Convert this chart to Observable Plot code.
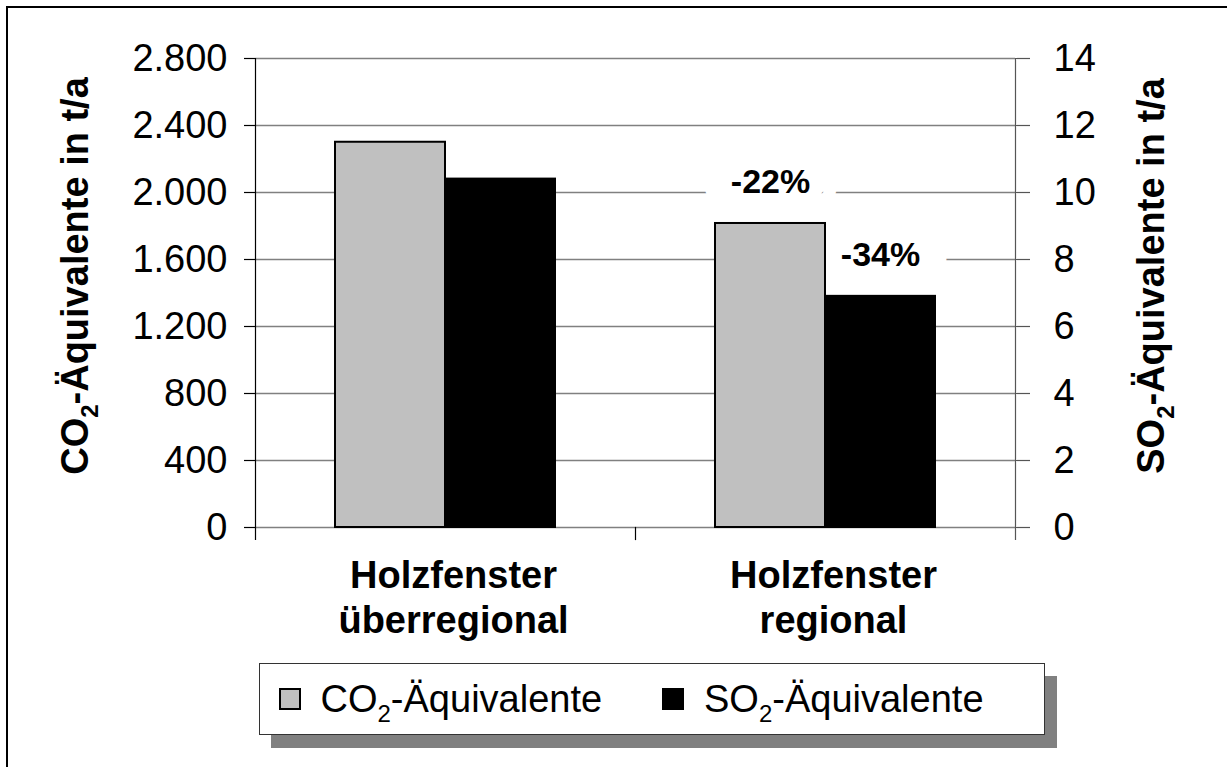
<!DOCTYPE html>
<html>
<head>
<meta charset="utf-8">
<script src="https://cdn.jsdelivr.net/npm/d3@7"></script>
<script src="https://cdn.jsdelivr.net/npm/@observablehq/plot@0.6"></script>
<style>
html,body{margin:0;padding:0;width:1227px;height:767px;overflow:hidden;background:#fff;font-family:"Liberation Sans",Arial,sans-serif;}
#frame{position:absolute;left:6px;top:6px;width:1260px;height:800px;border:2px solid #000;box-sizing:border-box;pointer-events:none;}
#chart{position:absolute;left:0;top:0;}
#legend{position:absolute;left:259px;top:663px;width:786px;height:72px;box-sizing:border-box;border:1.5px solid #333;background:#fff;box-shadow:12px 13px 0 #808080;}
.item{position:absolute;top:0;height:100%;display:flex;align-items:center;font-size:38px;color:#000;white-space:nowrap;}
.sw{width:22px;height:22px;box-sizing:border-box;border:2px solid #000;margin-right:20px;flex:none;}
.item sub{font-size:24px;vertical-align:-10px;line-height:0;}
</style>
</head>
<body>
<div id="chart"></div>
<div id="legend"></div>
<div id="frame"></div>
<script>
// ---- data ----
const categories = ["Holzfenster\nüberregional", "Holzfenster\nregional"];
const seriesKeys = ["CO2", "SO2"];
const seriesNames = ["CO₂-Äquivalente", "SO₂-Äquivalente"];
const seriesColors = ["#c0c0c0", "#000000"];
const co2Values = [2300, 1815];      // t/a (left axis)
const so2Values = [10.4, 6.9];       // t/a (right axis)
const co2Change = [null, "-22%"];
const so2Change = [null, "-34%"];
const leftTicks = [0, 400, 800, 1200, 1600, 2000, 2400, 2800];
const rightTicks = [0, 2, 4, 6, 8, 10, 12, 14];
const leftTitle = "CO₂-Äquivalente in t/a";
const rightTitle = "SO₂-Äquivalente in t/a";

// ---- derived table ----
const ratio = leftTicks[leftTicks.length - 1] / rightTicks[rightTicks.length - 1];
const rows = [];
categories.forEach((cat, i) => {
  rows.push({cat, key: seriesKeys[0], value: co2Values[i], label: co2Change[i]});
  rows.push({cat, key: seriesKeys[1], value: so2Values[i] * ratio, label: so2Change[i]});
});
const labelRows = rows.filter(r => r.label);

const deFmt = d3.formatLocale({decimal: ",", thousands: ".", grouping: [3], currency: ["", " €"]}).format(",");

const W = 1227, H = 650, mL = 255, mR = 212, mT = 58, mB = 123;
const plotH = H - mT - mB;

const chart = Plot.plot({
  width: W, height: H,
  marginLeft: mL, marginRight: mR, marginTop: mT, marginBottom: mB,
  style: {fontFamily: '"Liberation Sans", Arial, sans-serif', fontSize: "38px", background: "transparent", overflow: "visible", color: "#000"},
  fx: {domain: categories, padding: 0, axis: null, label: null},
  x: {domain: seriesKeys, paddingInner: 0, paddingOuter: 0.72, axis: null, label: null},
  y: {domain: [0, leftTicks[leftTicks.length - 1]], axis: null, label: null},
  color: {domain: seriesKeys, range: seriesColors},
  marks: [
    Plot.gridY(leftTicks, {stroke: "#808080", strokeOpacity: 1, strokeWidth: 1.5}),
    Plot.text(labelRows, {fx: "cat", x: "key", y: "value", text: "label", dy: -41, fontSize: 34, fontWeight: "bold", fill: "white", stroke: "white", strokeWidth: 54, strokeLinejoin: "round"}),
    Plot.barY(rows, {fx: "cat", x: "key", y: "value", fill: "key", stroke: "#000", strokeWidth: 2}),
    Plot.text(labelRows, {fx: "cat", x: "key", y: "value", text: "label", dy: -41, fontSize: 34, fontWeight: "bold", fill: "#000"}),
    Plot.axisY(leftTicks, {anchor: "left", tickSize: 11, tickPadding: 17, tickFormat: deFmt, label: null, stroke: "#000", strokeWidth: 1.2, fill: "#000", fontSize: 38}),
    Plot.axisY(leftTicks, {anchor: "right", tickSize: 14, tickPadding: 24, tickFormat: d => String(d / ratio), label: null, stroke: "#555", strokeWidth: 1.2, fill: "#000", fontSize: 38}),
    Plot.frame({fx: categories[0], anchor: "left", stroke: "#000", strokeWidth: 1.2, insetBottom: -12}),
    Plot.frame({fx: categories[1], anchor: "right", stroke: "#555", strokeWidth: 1.2, insetBottom: -12}),
    Plot.frame({fx: categories[1], anchor: "left", stroke: "#000", strokeWidth: 1.2, insetTop: plotH, insetBottom: -12}),
    Plot.text(categories, {fx: d => d, text: d => d, frameAnchor: "bottom", lineAnchor: "top", dy: 29, dx: 8, lineHeight: 45 / 38, fontWeight: "bold", fontSize: 38, fill: "#000"}),
    Plot.text([leftTitle], {fx: () => categories[0], text: d => d, frameAnchor: "left", textAnchor: "middle", rotate: -90, lineAnchor: "top", dx: -194, dy: -17, fontWeight: "bold", fontSize: 38, fill: "#000"}),
    Plot.text([rightTitle], {fx: () => categories[1], text: d => d, frameAnchor: "right", textAnchor: "middle", rotate: -90, lineAnchor: "top", dx: 122, dy: -17, fontWeight: "bold", fontSize: 38, fill: "#000"})
  ]
});

// real subscripts for "₂"
const NS = "http://www.w3.org/2000/svg";
chart.querySelectorAll("text, tspan").forEach(el => {
  if (el.children.length === 0 && el.textContent.includes("₂")) {
    const parts = el.textContent.split("₂");
    el.textContent = "";
    parts.forEach((p, i) => {
      if (i > 0) {
        const s = document.createElementNS(NS, "tspan");
        s.setAttribute("font-size", "24");
        s.setAttribute("dy", "10");
        s.textContent = "2";
        el.appendChild(s);
      }
      const t = document.createElementNS(NS, "tspan");
      if (i > 0) t.setAttribute("dy", "-10");
      t.textContent = p;
      el.appendChild(t);
    });
  }
});
document.getElementById("chart").appendChild(chart);

// legend
const legend = document.getElementById("legend");
const itemLefts = [18.5, 402];
seriesNames.forEach((name, i) => {
  const it = document.createElement("div");
  it.className = "item";
  it.style.left = itemLefts[i] + "px";
  const sw = document.createElement("span");
  sw.className = "sw";
  sw.style.background = seriesColors[i];
  const tx = document.createElement("span");
  tx.innerHTML = name.replace("₂", "<sub>2</sub>");
  it.appendChild(sw);
  it.appendChild(tx);
  legend.appendChild(it);
});
</script>
</body>
</html>
